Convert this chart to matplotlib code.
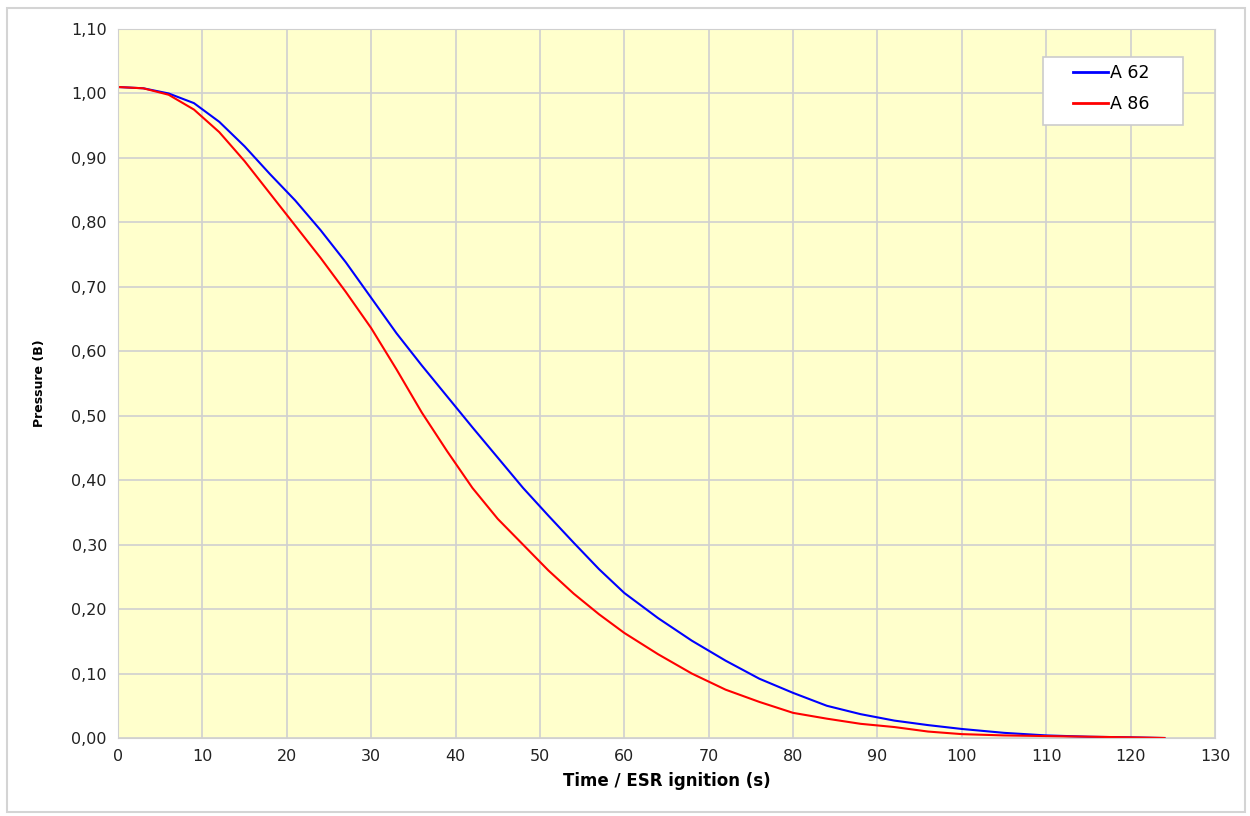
import numpy as np
import matplotlib.pyplot as plt
from matplotlib.ticker import FuncFormatter
from matplotlib.patches import Rectangle

# pressure decay after ESR ignition, two runs
t = [0, 3, 6, 9, 12, 15, 18, 21, 24, 27, 30, 33, 36, 39, 42, 45, 48, 51, 54, 57,
     60, 64, 68, 72, 76, 80, 84, 88, 92, 96, 100, 105, 110, 115, 120, 124]
p_a62 = [1.01, 1.008, 1.0, 0.985, 0.956, 0.918, 0.875, 0.834, 0.788, 0.738, 0.683, 0.628,
         0.578, 0.53, 0.482, 0.435, 0.388, 0.345, 0.303, 0.262, 0.225, 0.186, 0.151, 0.12,
         0.092, 0.07, 0.05, 0.037, 0.027, 0.02, 0.014, 0.008, 0.004, 0.002, 0.001, 0.0]
p_a86 = [1.01, 1.008, 0.998, 0.975, 0.94, 0.895, 0.845, 0.795, 0.745, 0.692, 0.636, 0.572,
         0.505, 0.445, 0.388, 0.34, 0.3, 0.26, 0.224, 0.192, 0.163, 0.13, 0.1, 0.075,
         0.056, 0.039, 0.03, 0.022, 0.017, 0.01, 0.006, 0.004, 0.003, 0.002, 0.001, 0.0]
labels = ['A 62', 'A 86']

fig = plt.figure(figsize=(12.5, 8.16), dpi=100)
ax = fig.add_axes([118/1250, 1 - 738/816, (1215-118)/1250, (738-29)/816])

# light frame round the whole chart
fig.patches.append(Rectangle((7/1250, 4/816), 1238/1250, 804/816, transform=fig.transFigure,
                             fill=False, edgecolor='#d4d4d4', lw=1.5))

ax.set_facecolor('#ffffcc')
ax.plot(t, p_a62, color='#0000ff', lw=1.5, label=labels[0])
ax.plot(t, p_a86, color='#ff0000', lw=1.5, label=labels[1])

ax.set_xlim(0, 130)
ax.set_ylim(0, 1.10)
ax.set_xticks(np.arange(0, 131, 10))
ax.set_yticks(np.arange(0, 1.101, 0.10))
ax.yaxis.set_major_formatter(FuncFormatter(lambda v, pos: f'{v:.2f}'.replace('.', ',')))
ax.grid(True, color='#d0d0d0', lw=1.2)
ax.set_axisbelow(True)
ax.tick_params(length=0, labelsize=11.5, colors='#222222', pad=8)
for s in ax.spines.values():
    s.set_color('#d0d0d0')

ax.set_xlabel('Time / ESR ignition (s)', fontsize=12, fontweight='bold', labelpad=6)
ax.set_ylabel('Pressure (B)', fontsize=9, fontweight='bold', labelpad=18)

# legend box drawn separately so the entries sit centred in it
ax.add_patch(Rectangle((0.843, 0.8646), 0.1276, 0.0959, transform=ax.transAxes,
                       facecolor='white', edgecolor='#cccccc', lw=1.2, zorder=4))
leg = ax.legend(loc='upper left', bbox_to_anchor=(0.8706, 0.951), frameon=False,
                fontsize=12.5, handlelength=2.0, handletextpad=0.15, borderpad=0,
                labelspacing=0.75, borderaxespad=0)
leg.set_zorder(5)
for h in leg.get_lines():
    h.set_linewidth(2)

fig.savefig('out.png', dpi=100)
